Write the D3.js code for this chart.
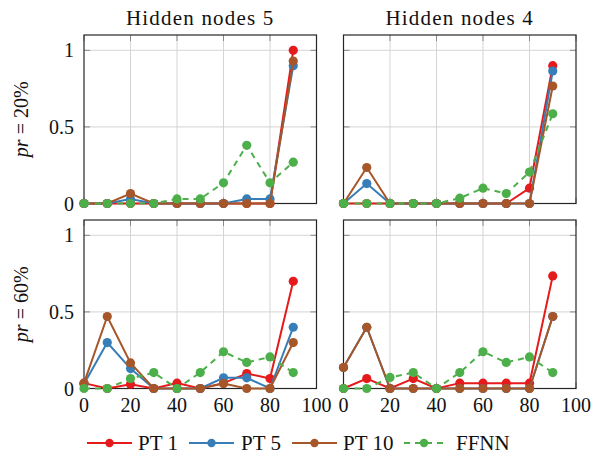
<!DOCTYPE html>
<html>
<head>
<meta charset="utf-8">
<script src="https://cdn.jsdelivr.net/npm/d3@7"></script>
<style>
  html, body { margin: 0; padding: 0; background: #fff; }
  svg { display: block; }
</style>
</head>
<body>
<svg id="chart" width="593" height="455"></svg>
<script>
// Share of runs per pruning level (x, in %), for each model and configuration
const xValues = [0, 10, 20, 30, 40, 50, 60, 70, 80, 90];
const xTicks = [0, 20, 40, 60, 80, 100];
const yTicks = [0, 0.5, 1];
const yTickLabels = ["0", "0.5", "1"];

const columnTitles = ["Hidden nodes 5", "Hidden nodes 4"];
const rowLabels = ["20%", "60%"];

const seriesNames = ["PT 1", "PT 5", "PT 10", "FFNN"];
const seriesColors = ["#e41a1c", "#377eb8", "#a65628", "#4daf4a"];

// pr = 20%, hidden nodes 5
const pt1_h5_r20  = [0, 0, 0, 0, 0, 0, 0, 0, 0, 1.0];
const pt5_h5_r20  = [0, 0, 0.03, 0, 0, 0, 0, 0.03, 0.03, 0.9];
const pt10_h5_r20 = [0, 0, 0.065, 0, 0, 0, 0, 0, 0, 0.93];
const ffnn_h5_r20 = [0, 0, 0, 0, 0.03, 0.03, 0.135, 0.38, 0.135, 0.27];

// pr = 20%, hidden nodes 4
const pt1_h4_r20  = [0, 0, 0, 0, 0, 0, 0, 0, 0.1, 0.9];
const pt5_h4_r20  = [0, 0.13, 0, 0, 0, 0, 0, 0, 0, 0.865];
const pt10_h4_r20 = [0, 0.235, 0, 0, 0, 0, 0, 0, 0, 0.767];
const ffnn_h4_r20 = [0, 0, 0, 0, 0, 0.035, 0.1, 0.065, 0.205, 0.586];

// pr = 60%, hidden nodes 5
const pt1_h5_r60  = [0.035, 0, 0.028, 0, 0.035, 0, 0.035, 0.098, 0.065, 0.7];
const pt5_h5_r60  = [0.03, 0.3, 0.13, 0, 0, 0, 0.07, 0.07, 0, 0.4];
const pt10_h5_r60 = [0.035, 0.47, 0.167, 0, 0, 0, 0.033, 0, 0, 0.3];
const ffnn_h5_r60 = [0, 0, 0.065, 0.104, 0, 0.104, 0.24, 0.17, 0.206, 0.104];

// pr = 60%, hidden nodes 4
const pt1_h4_r60  = [0, 0.065, 0, 0.065, 0, 0.035, 0.035, 0.035, 0.035, 0.735];
const pt5_h4_r60  = [0.137, 0.4, 0, 0, 0, 0, 0, 0, 0, 0.47];
const pt10_h4_r60 = [0.137, 0.4, 0, 0, 0, 0, 0, 0, 0, 0.47];
const ffnn_h4_r60 = [0, 0, 0.072, 0.104, 0, 0.104, 0.24, 0.17, 0.206, 0.104];

const panelData = [
  [[pt1_h5_r20, pt5_h5_r20, pt10_h5_r20, ffnn_h5_r20],
   [pt1_h4_r20, pt5_h4_r20, pt10_h4_r20, ffnn_h4_r20]],
  [[pt1_h5_r60, pt5_h5_r60, pt10_h5_r60, ffnn_h5_r60],
   [pt1_h4_r60, pt5_h4_r60, pt10_h4_r60, ffnn_h4_r60]]
];

const svg = d3.select("#chart")
  .attr("font-family", "Liberation Serif, DejaVu Serif, Times New Roman, serif")
  .attr("fill", "#111");

// panel geometry
const colX = [84, 343.5];
const rowY = [35, 220];
const pw = 232.5, ph = 168.5;
const tickLen = 6;

const xScale = d3.scaleLinear().domain([0, 100]).range([0, pw]);
const yScale = d3.scaleLinear().domain([0, 1.1]).range([ph, 0]);

const line = d3.line().x((d, i) => xScale(xValues[i])).y(d => yScale(d));

panelData.forEach((row, r) => {
  row.forEach((series, c) => {
    const g = svg.append("g").attr("transform", `translate(${colX[c]},${rowY[r]})`);

    // grid
    g.append("g").selectAll("line.gx").data(xTicks.filter(t => t > 0 && t < 100)).join("line")
      .attr("x1", d => xScale(d)).attr("x2", d => xScale(d))
      .attr("y1", 0).attr("y2", ph)
      .attr("stroke", "#d4d4d4").attr("stroke-width", 1);
    g.append("g").selectAll("line.gy").data(yTicks.filter(t => t > 0)).join("line")
      .attr("x1", 0).attr("x2", pw)
      .attr("y1", d => yScale(d)).attr("y2", d => yScale(d))
      .attr("stroke", "#d4d4d4").attr("stroke-width", 1);

    // inner tick marks on all four sides
    const tg = g.append("g").attr("stroke", "#8a8a8a").attr("stroke-width", 1);
    xTicks.forEach(t => {
      tg.append("line").attr("x1", xScale(t)).attr("x2", xScale(t)).attr("y1", 0).attr("y2", tickLen);
      tg.append("line").attr("x1", xScale(t)).attr("x2", xScale(t)).attr("y1", ph).attr("y2", ph - tickLen);
    });
    yTicks.forEach(t => {
      tg.append("line").attr("x1", 0).attr("x2", tickLen).attr("y1", yScale(t)).attr("y2", yScale(t));
      tg.append("line").attr("x1", pw).attr("x2", pw - tickLen).attr("y1", yScale(t)).attr("y2", yScale(t));
    });

    // frame
    g.append("rect").attr("x", 0).attr("y", 0).attr("width", pw).attr("height", ph)
      .attr("fill", "none").attr("stroke", "#262626").attr("stroke-width", 1.2);

    // series: line then markers
    series.forEach((vals, s) => {
      g.append("path").datum(vals)
        .attr("d", line)
        .attr("fill", "none")
        .attr("stroke", seriesColors[s])
        .attr("stroke-width", 2)
        .attr("stroke-dasharray", s === 3 ? "6,5" : null);
      g.append("g").selectAll("circle").data(vals).join("circle")
        .attr("cx", (d, i) => xScale(xValues[i]))
        .attr("cy", d => yScale(d))
        .attr("r", 4.6)
        .attr("fill", seriesColors[s]);
    });

    // y tick labels on the left column
    if (c === 0) {
      g.append("g").selectAll("text").data(yTicks).join("text")
        .attr("x", -10).attr("y", d => yScale(d)).attr("dy", "0.35em")
        .attr("text-anchor", "end").attr("font-size", 20)
        .text((d, i) => yTickLabels[i]);
    }
    // x tick labels on the bottom row
    if (r === 1) {
      g.append("g").selectAll("text").data(xTicks).join("text")
        .attr("x", d => xScale(d)).attr("y", ph + 23)
        .attr("text-anchor", "middle").attr("font-size", 20)
        .text(d => d);
    }
    // column titles
    if (r === 0) {
      g.append("text").attr("x", pw / 2).attr("y", -10)
        .attr("text-anchor", "middle").attr("font-size", 21)
        .attr("letter-spacing", 1.2)
        .text(columnTitles[c]);
    }
    // row labels
    if (c === 0) {
      const t = g.append("text")
        .attr("transform", `translate(${28 - colX[0]},${ph / 2}) rotate(-90)`)
        .attr("text-anchor", "middle").attr("font-size", 20);
      t.append("tspan").attr("font-style", "italic").text("pr");
      t.append("tspan").attr("dx", 5).text("=");
      t.append("tspan").attr("dx", 5).text(rowLabels[r]);
    }
  });
});

// legend
const legendY = 443;
const legendItems = [
  {x0: 87, x1: 132, tx: 138},
  {x0: 189, x1: 234, tx: 241},
  {x0: 292, x1: 337, tx: 343},
  {x0: 404, x1: 444, tx: 456}
];
const lg = svg.append("g");
seriesNames.forEach((name, s) => {
  const it = legendItems[s];
  lg.append("line").attr("x1", it.x0).attr("x2", it.x1)
    .attr("y1", legendY).attr("y2", legendY)
    .attr("stroke", seriesColors[s]).attr("stroke-width", 2)
    .attr("stroke-dasharray", s === 3 ? "6,5" : null);
  lg.append("circle").attr("cx", (it.x0 + it.x1) / 2).attr("cy", legendY)
    .attr("r", 4.2).attr("fill", seriesColors[s]);
  lg.append("text").attr("x", it.tx).attr("y", legendY + 7)
    .attr("font-size", 21).text(name);
});
</script>
</body>
</html>
